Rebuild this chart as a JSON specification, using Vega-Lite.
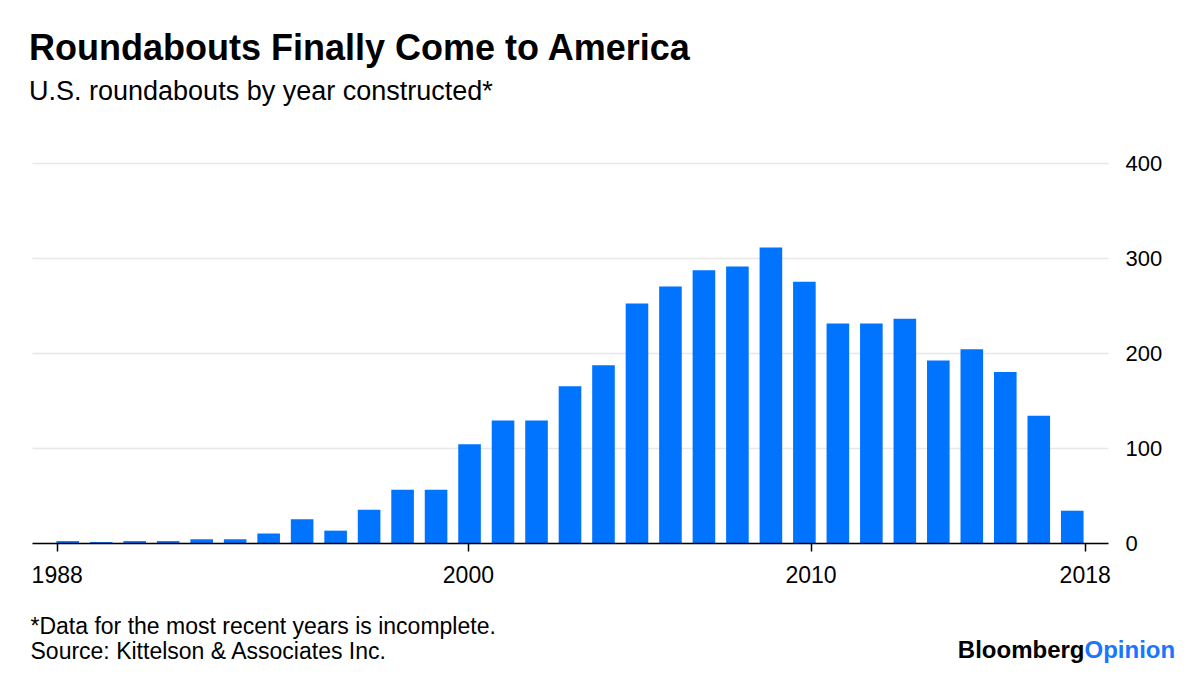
{
  "$schema": "https://vega.github.io/schema/vega-lite/v6.json",
  "width": 1076,
  "height": 380,
  "autosize": {"type": "none"},
  "padding": {"left": 32, "top": 163, "right": 92, "bottom": 138},
  "background": "white",
  "config": {
    "view": {"stroke": null},
    "font": "Liberation Sans",
    "axis": {"labelFont": "Liberation Sans", "titleFont": "Liberation Sans"}
  },
  "title": {
    "text": "Roundabouts Finally Come to America",
    "subtitle": "U.S. roundabouts by year constructed*",
    "anchor": "start",
    "frame": "group",
    "font": "Liberation Sans",
    "fontSize": 36,
    "fontWeight": "bold",
    "color": "#000000",
    "subtitleFont": "Liberation Sans",
    "subtitleFontSize": 27,
    "subtitleColor": "#000000",
    "subtitlePadding": 11,
    "offset": 46,
    "dx": -3
  },
  "data": {
    "values": [
      {"year": 1988, "count": 2},
      {"year": 1989, "count": 1},
      {"year": 1990, "count": 2},
      {"year": 1991, "count": 2},
      {"year": 1992, "count": 4},
      {"year": 1993, "count": 4},
      {"year": 1994, "count": 10},
      {"year": 1995, "count": 25},
      {"year": 1996, "count": 13},
      {"year": 1997, "count": 35},
      {"year": 1998, "count": 56},
      {"year": 1999, "count": 56},
      {"year": 2000, "count": 104},
      {"year": 2001, "count": 129},
      {"year": 2002, "count": 129},
      {"year": 2003, "count": 165},
      {"year": 2004, "count": 187},
      {"year": 2005, "count": 252},
      {"year": 2006, "count": 270},
      {"year": 2007, "count": 287},
      {"year": 2008, "count": 291},
      {"year": 2009, "count": 311},
      {"year": 2010, "count": 275},
      {"year": 2011, "count": 231},
      {"year": 2012, "count": 231},
      {"year": 2013, "count": 236},
      {"year": 2014, "count": 192},
      {"year": 2015, "count": 204},
      {"year": 2016, "count": 180},
      {"year": 2017, "count": 134},
      {"year": 2018, "count": 34}
    ]
  },
  "layer": [
    {
      "mark": {"type": "bar", "color": "#0073ff"},
      "encoding": {
        "x": {
          "field": "year",
          "type": "ordinal",
          "scale": {"paddingInner": 0.325, "paddingOuter": 0.73},
          "axis": {
            "orient": "top",
            "labels": false,
            "ticks": false,
            "domain": false,
            "grid": false,
            "title": "Opinion",
            "titleFont": "Liberation Sans",
            "titleFontSize": 24,
            "titleFontWeight": "bold",
            "titleColor": "#1a75ff",
            "titleAlign": "left",
            "titleAnchor": "start",
            "titleBaseline": "alphabetic",
            "titleAngle": 0,
            "titleX": 1052,
            "titleY": 494
          }
        },
        "y": {
          "field": "count",
          "type": "quantitative",
          "scale": {"domain": [0, 400], "nice": false},
          "axis": {
            "orient": "right",
            "values": [0, 100, 200, 300, 400],
            "grid": true,
            "gridColor": "#e8e8e8",
            "gridWidth": 1.5,
            "domain": false,
            "ticks": false,
            "tickSize": 0,
            "labelPadding": 17,
            "labelFontSize": 22,
            "labelColor": "#000000",
            "labelAlign": "left",
            "title": "Bloomberg",
            "titleFont": "Liberation Sans",
            "titleFontSize": 24,
            "titleFontWeight": "bold",
            "titleColor": "#000000",
            "titleAngle": 0,
            "titleAlign": "right",
            "titleBaseline": "alphabetic",
            "titleX": -24,
            "titleY": 494,
            "zindex": 0
          }
        }
      }
    },
    {
      "mark": {"type": "point", "opacity": 0, "size": 0},
      "encoding": {
        "x": {
          "field": "year",
          "type": "quantitative",
          "scale": {"domain": [1987.28, 2018.68], "nice": false, "zero": false},
          "axis": {
            "orient": "bottom",
            "values": [1988, 2000, 2010, 2018],
            "format": "d",
            "grid": false,
            "domain": true,
            "domainColor": "#000000",
            "domainWidth": 1.5,
            "ticks": true,
            "tickColor": "#000000",
            "tickWidth": 1.5,
            "tickSize": 8,
            "labelPadding": 31,
            "labelBaseline": "alphabetic",
            "labelFontSize": 23,
            "labelColor": "#000000",
            "labelFlush": false,
            "labelOverlap": false,
            "title": ["*Data for the most recent years is incomplete.", "Source: Kittelson & Associates Inc."],
            "titleFont": "Liberation Sans",
            "titleFontSize": 23,
            "titleFontWeight": "normal",
            "titleColor": "#000000",
            "titleAlign": "left",
            "titleAnchor": "start",
            "titleBaseline": "alphabetic",
            "titleLineHeight": 25,
            "titleX": -2,
            "titleY": 90,
            "zindex": 1
          }
        },
        "y": {"field": "count", "type": "quantitative"}
      }
    }
  ],
  "resolve": {"scale": {"x": "independent"}, "axis": {"x": "independent"}}
}
